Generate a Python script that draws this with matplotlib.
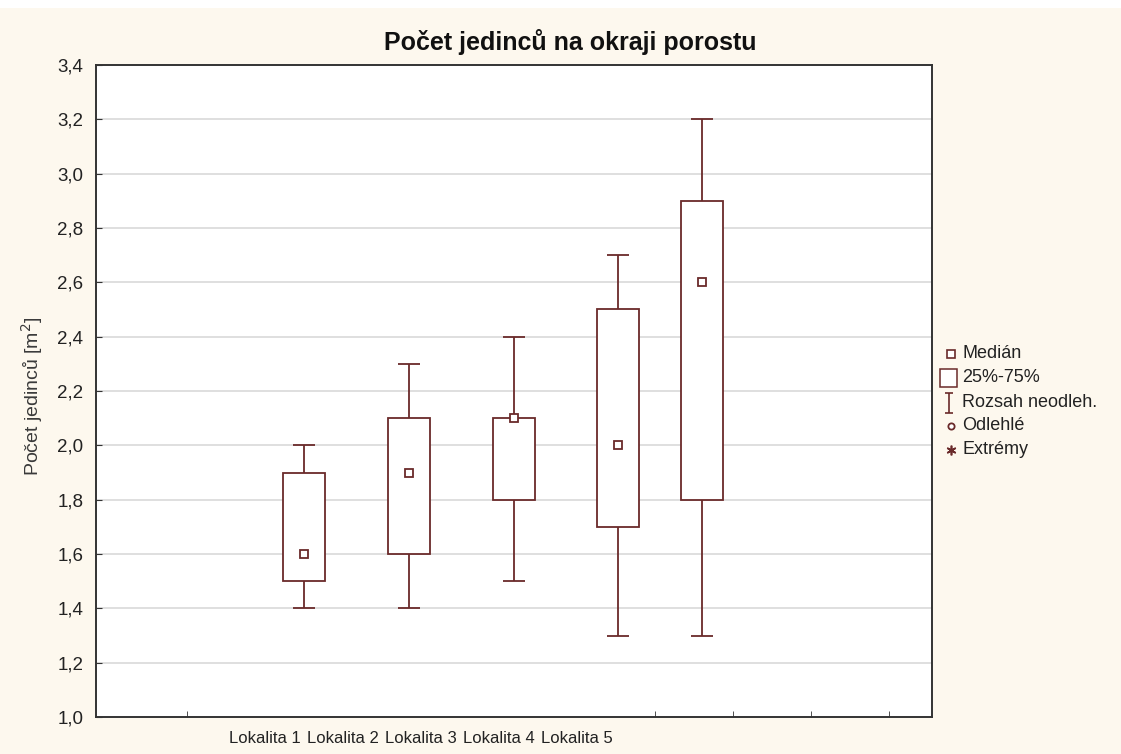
import matplotlib
matplotlib.use("Agg")
import matplotlib.pyplot as plt
from matplotlib.lines import Line2D
from matplotlib.patches import Rectangle
from matplotlib.path import Path

# ---- data ----
categories = ["Lokalita 1", "Lokalita 2", "Lokalita 3", "Lokalita 4", "Lokalita 5"]
whisker_low = [1.4, 1.4, 1.5, 1.3, 1.3]
q1 = [1.5, 1.6, 1.8, 1.7, 1.8]
median = [1.6, 1.9, 2.1, 2.0, 2.6]
q3 = [1.9, 2.1, 2.1, 2.5, 2.9]
whisker_high = [2.0, 2.3, 2.4, 2.7, 3.2]
y_ticks = [1.0, 1.2, 1.4, 1.6, 1.8, 2.0, 2.2, 2.4, 2.6, 2.8, 3.0, 3.2, 3.4]
legend_labels = ["Medián", "25%-75%", "Rozsah neodleh.", "Odlehlé", "Extrémy"]

# ---- layout (x in label units, 1 unit = spacing of category labels) ----
label_pos = [1, 2, 3, 4, 5]
box_pos = [1.50, 2.85, 4.19, 5.53, 6.60]
minor_x = [0, 1, 2, 3, 4, 5, 6, 7, 8, 9]
box_w = 0.54
cap_w = 0.28

W, H = 1121, 754
col = "#6a2a2a"
bg = "#fdf8ee"
FONT = ["Liberation Sans", "DejaVu Sans"]
plt.rcParams["font.family"] = FONT

fig = plt.figure(figsize=(W / 100, H / 100), dpi=100, facecolor=bg)
fig.patches.append(Rectangle((0, 1 - 8 / H), 1, 8 / H, transform=fig.transFigure,
                             facecolor="white", edgecolor="none", zorder=0))
ax = fig.add_axes([96 / W, (H - 717) / H, (932 - 96) / W, (717 - 65) / H])
ax.set_facecolor("white")

ax.set_xlim(-1.167, 9.55)
ax.set_ylim(1.0, 3.4)

for y in y_ticks[1:-1]:
    ax.axhline(y, color="#d9d9d9", lw=1.2, zorder=1)

for i in range(len(categories)):
    x = box_pos[i]
    ax.vlines(x, whisker_low[i], q1[i], color=col, lw=1.3, zorder=2)
    ax.vlines(x, q3[i], whisker_high[i], color=col, lw=1.3, zorder=2)
    ax.hlines([whisker_low[i], whisker_high[i]], x - cap_w / 2, x + cap_w / 2,
              color=col, lw=1.3, zorder=2)
    ax.add_patch(Rectangle((x - box_w / 2, q1[i]), box_w, q3[i] - q1[i],
                           facecolor="white", edgecolor=col, lw=1.3, zorder=3))
    ax.plot([x], [median[i]], marker="s", ms=6, mfc="white", mec=col, mew=1.3,
            zorder=4, ls="none")

ax.set_yticks(y_ticks)
ax.set_yticklabels([f"{v:.1f}".replace(".", ",") for v in y_ticks], fontsize=13.5,
                   color="#222222")
ax.set_xticks(label_pos)
ax.set_xticklabels(categories, fontsize=12, color="#222222")
ax.tick_params(axis="x", length=0, pad=10)
ax.set_xticks(minor_x, minor=True)
ax.tick_params(axis="x", which="minor", direction="in", length=4, color="#333333")
ax.tick_params(axis="y", direction="in", length=4, color="#333333", pad=9)
for s in ax.spines.values():
    s.set_color("#333333")
    s.set_linewidth(1.4)

ax.set_ylabel("Počet jedinců [m$^2$]", fontsize=14, color="#3a3a3a")
ax.yaxis.set_label_coords((45 - 96) / 836, (717 - 396) / 652)
fig.text(570 / W, 1 - 42 / H, "Počet jedinců na okraji porostu", fontsize=18,
         fontweight="bold", color="#111111", ha="center", va="center")

# ---- legend (drawn in figure pixel positions) ----
def fx(px):
    return px / W


def fy(py):
    return 1 - py / H


rows = [354, 378, 403, 426, 450]
mx = 951
ibeam = Path([(-0.4, -1), (0.4, -1), (0, -1), (0, 1), (-0.4, 1), (0.4, 1)],
             [Path.MOVETO, Path.LINETO, Path.MOVETO, Path.LINETO, Path.MOVETO, Path.LINETO])
fig.add_artist(Line2D([fx(mx)], [fy(rows[0])], transform=fig.transFigure, ls="none",
                      marker="s", ms=5.5, mfc="white", mec=col, mew=1.2))
fig.add_artist(Rectangle((fx(940), fy(rows[1] + 9)), 17 / W, 18 / H, transform=fig.transFigure,
                         facecolor="white", edgecolor=col, lw=1.1))
fig.add_artist(Line2D([fx(948.5)], [fy(rows[2])], transform=fig.transFigure, ls="none",
                      marker=ibeam, ms=15, mec=col, mew=1.2))
fig.add_artist(Line2D([fx(mx)], [fy(rows[3])], transform=fig.transFigure, ls="none",
                      marker="o", ms=4.5, mfc="white", mec=col, mew=1.3))
fig.add_artist(Line2D([fx(mx)], [fy(rows[4])], transform=fig.transFigure, ls="none",
                      marker=(6, 2, 0), ms=7, mec=col, mew=1.2))
for r, lab in zip(rows, legend_labels):
    fig.text(fx(962), fy(r), lab, fontsize=13, color="#222222", ha="left", va="center")

fig.savefig("out.png", dpi=100, facecolor=bg)
